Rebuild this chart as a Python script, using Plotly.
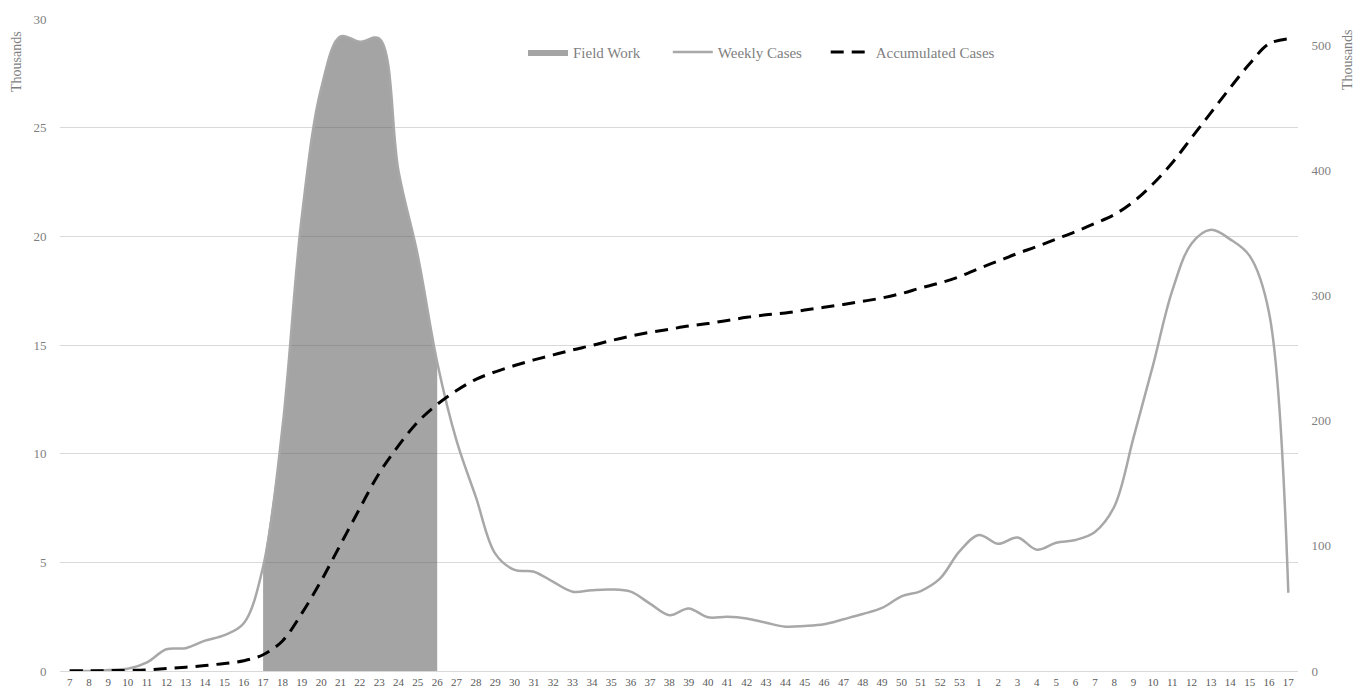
import plotly.graph_objects as go

weeks = ["7", "8", "9", "10", "11", "12", "13", "14", "15", "16", "17", "18", "19", "20", "21", "22",
         "23", "24", "25", "26", "27", "28", "29", "30", "31", "32", "33", "34", "35", "36", "37", "38",
         "39", "40", "41", "42", "43", "44", "45", "46", "47", "48", "49", "50", "51", "52", "53",
         "1", "2", "3", "4", "5", "6", "7", "8", "9", "10", "11", "12", "13", "14", "15", "16", "17"]

weekly_cases = [0.0, 0.0, 0.05, 0.1, 0.4, 1.0, 1.05, 1.4, 1.65, 2.2, 4.8, 11.2, 20.9, 26.8, 29.2, 28.95,
                29.1, 23.0, 19.1, 14.2, 10.6, 8.0, 5.4, 4.65, 4.57, 4.1, 3.65, 3.72, 3.75, 3.65, 3.1, 2.57,
                2.88, 2.47, 2.5, 2.42, 2.22, 2.04, 2.07, 2.15, 2.38, 2.62, 2.9, 3.43, 3.68, 4.26, 5.5,
                6.26, 5.85, 6.14, 5.58, 5.9, 6.03, 6.4, 7.56, 10.75, 14.05, 17.5, 19.67, 20.3, 19.86, 19.1, 16.5, 3.6]

accumulated_cases = [0.1, 0.2, 0.3, 0.5, 0.9, 1.9, 3.0, 4.4, 6.0, 8.2, 13.0, 24.0, 46.0, 72.0, 101.0, 130.0,
                     158.0, 180.0, 199.0, 213.0, 224.0, 233.0, 239.0, 244.0, 248.5, 252.5, 256.5, 260.0, 264.0, 267.5, 270.5, 273.0,
                     275.5, 277.5, 280.0, 282.5, 284.5, 286.0, 288.3, 290.5, 292.8, 295.3, 298.0, 301.5, 306.0, 310.0, 315.0,
                     321.5, 327.5, 333.5, 339.0, 345.0, 351.0, 357.5, 364.5, 375.0, 389.0, 406.0, 426.0, 446.0, 466.0, 485.0, 501.0, 505.0]

field_work_start = 10   # week 17
field_work_end = 19     # week 26

x_idx = list(range(len(weeks)))
fw_x = x_idx[field_work_start:field_work_end + 1]
fw_y = weekly_cases[field_work_start:field_work_end + 1]

font_family = "Liberation Serif, DejaVu Serif, serif"
text_color = "#7f7f7f"
pad = "\u00a0"

fig = go.Figure()

fig.add_trace(go.Scatter(
    x=fw_x, y=fw_y, name="Field Work" + pad * 6, mode="lines",
    line=dict(color="rgba(90,90,90,0.55)", width=0, shape="spline", smoothing=1.0),
    fill="tozeroy", fillcolor="rgba(90,90,90,0.55)", yaxis="y", hoverinfo="skip"))

fig.add_trace(go.Scatter(
    x=x_idx, y=weekly_cases, name="Weekly Cases" + pad * 5, mode="lines",
    line=dict(color="#a8a8a8", width=2.5, shape="spline", smoothing=1.0),
    yaxis="y"))

fig.add_trace(go.Scatter(
    x=x_idx, y=accumulated_cases, name="Accumulated Cases", mode="lines",
    line=dict(color="#000000", width=3, dash="13px,8px", shape="spline", smoothing=1.0),
    yaxis="y2"))

fig.update_layout(
    width=1362, height=690,
    margin=dict(l=60, r=64, t=19, b=19, autoexpand=False),
    paper_bgcolor="white", plot_bgcolor="white",
    font=dict(family=font_family, size=12, color=text_color),
    showlegend=True,
    legend=dict(orientation="h", x=0.374, xanchor="left", y=0.949, yanchor="middle",
                font=dict(family=font_family, size=15, color=text_color),
                bgcolor="rgba(0,0,0,0)", itemwidth=40, traceorder="normal"),
    xaxis=dict(range=[-0.5, len(weeks) - 0.5], tickmode="array", tickvals=x_idx, ticktext=weeks,
               showgrid=False, zeroline=False, showline=False, automargin=False,
               ticks="outside", ticklen=1, tickcolor="rgba(0,0,0,0)",
               tickfont=dict(family=font_family, size=11, color="#595959"), tickangle=0),
    yaxis=dict(range=[0, 30], tickvals=[0, 5, 10, 15, 20, 25, 30], automargin=False,
               showgrid=True, gridcolor="#d9d9d9", gridwidth=1, zeroline=True,
               zerolinecolor="#d9d9d9", zerolinewidth=1, showline=False,
               ticks="outside", ticklen=10, tickcolor="rgba(0,0,0,0)",
               tickfont=dict(family=font_family, size=13, color=text_color)),
    yaxis2=dict(range=[0, 520.8], tickvals=[0, 100, 200, 300, 400, 500], automargin=False,
                overlaying="y", side="right", showgrid=False, zeroline=False, showline=False,
                ticks="outside", ticklen=10, tickcolor="rgba(0,0,0,0)",
                tickfont=dict(family=font_family, size=13, color=text_color)),
    annotations=[
        dict(text="Thousands", xref="paper", yref="paper", x=-0.0355, y=0.934,
             showarrow=False, textangle=-90, xanchor="center", yanchor="middle",
             font=dict(family=font_family, size=14, color=text_color)),
        dict(text="Thousands", xref="paper", yref="paper", x=1.0396, y=0.937,
             showarrow=False, textangle=-90, xanchor="center", yanchor="middle",
             font=dict(family=font_family, size=14, color=text_color)),
    ],
)

fig.write_html("out.html", config={"displayModeBar": False},
               post_script="document.body.style.margin='0';")
